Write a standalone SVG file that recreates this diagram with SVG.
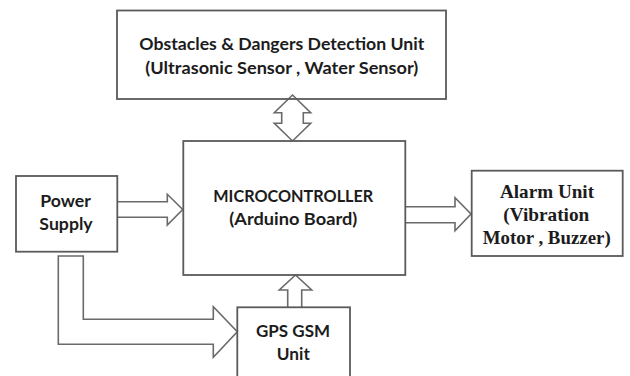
<svg xmlns="http://www.w3.org/2000/svg" width="630" height="376" viewBox="0 0 630 376">
<style>
.box{fill:none;stroke:#5a5a5a;stroke-width:1.8}
.arr{fill:none;stroke:#6a6a6a;stroke-width:1.6;stroke-linejoin:miter}
.t{font-family:Lato,"Open Sans","Liberation Sans",sans-serif;font-weight:bold;font-size:17.5px;fill:#1c1c1c;text-anchor:middle}
.s{font-family:"Liberation Serif","Times New Roman",serif;font-weight:bold;font-size:19px;fill:#1c1c1c;text-anchor:middle}
</style>
<rect x="0" y="0" width="630" height="376" fill="#ffffff"/>
<g id="connectors">
<path class="arr" d="M292.5,95 L310.7,112.7 H303.3 V123.3 H310.7 L292.5,141 L274.3,123.3 H281.7 V112.7 H274.3 Z"/>
<path class="arr" d="M117,201.7 H167.3 V194.3 L182.7,209.5 L167.3,225 V217.3 H117"/>
<path class="arr" d="M405,206.7 H455 V197.7 L471,214 L455,230.7 V222.7 H405"/>
<path class="arr" d="M287.7,307.3 V290 H279.3 L295.5,275 L311.7,290 H301.7 V307.3"/>
<path class="arr" d="M58.3,256 H83.3 V319.3 H213.3 V306.7 L237.3,331.7 L213.3,357.3 V344.3 H58.3 Z"/>
</g>
<g id="detection">
<rect class="box" x="117" y="10.5" width="329" height="88.5"/>
<text class="t" x="281.8" y="50" textLength="285" lengthAdjust="spacingAndGlyphs">Obstacles &amp; Dangers Detection Unit</text>
<text class="t" x="281.8" y="74" textLength="273" lengthAdjust="spacingAndGlyphs">(Ultrasonic Sensor , Water Sensor)</text>
</g>
<g id="power">
<rect class="box" x="16" y="176" width="101.3" height="75.7"/>
<text class="t" x="65.5" y="207.3" textLength="50.7" lengthAdjust="spacingAndGlyphs">Power</text>
<text class="t" x="66" y="230" textLength="53.3" lengthAdjust="spacingAndGlyphs">Supply</text>
</g>
<g id="microcontroller">
<rect class="box" x="183.3" y="141" width="222" height="134"/>
<text class="t" x="293.3" y="201.7" textLength="160" lengthAdjust="spacingAndGlyphs">MICROCONTROLLER</text>
<text class="t" x="293.3" y="225" textLength="128" lengthAdjust="spacingAndGlyphs">(Arduino Board)</text>
</g>
<g id="alarm">
<rect class="box" x="471.7" y="170.7" width="151" height="85.3"/>
<text class="s" x="547" y="197.7" textLength="94" lengthAdjust="spacingAndGlyphs">Alarm Unit</text>
<text class="s" x="546.3" y="220.7" textLength="86" lengthAdjust="spacingAndGlyphs">(Vibration</text>
<text class="s" x="546.7" y="244" textLength="128" lengthAdjust="spacingAndGlyphs">Motor , Buzzer)</text>
</g>
<g id="gps">
<rect class="box" x="237.3" y="307.3" width="112.7" height="80"/>
<text class="t" x="293" y="336.7" textLength="74" lengthAdjust="spacingAndGlyphs">GPS GSM</text>
<text class="t" x="293.3" y="360" textLength="33" lengthAdjust="spacingAndGlyphs">Unit</text>
</g>
</svg>
